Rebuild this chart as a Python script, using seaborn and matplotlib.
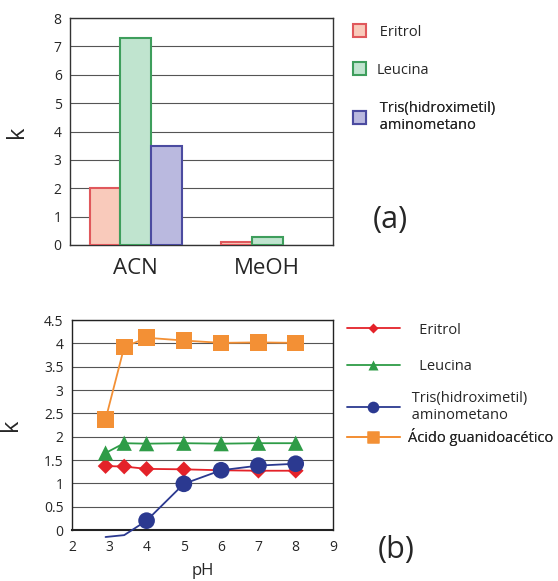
import matplotlib
matplotlib.use("Agg")
import matplotlib.pyplot as plt
import seaborn as sns
import pandas as pd
import numpy as np
from matplotlib.lines import Line2D
from matplotlib.patches import Patch

# ---- data (a) ----
solvents = ["ACN", "MeOH"]
compounds_a = ["Eritrol", "Leucina", "Tris(hidroximetil)\naminometano"]
k_eritrol_a = [2.0, 0.1]
k_leucina_a = [7.3, 0.28]
k_tris_a = [3.5, 0.0]

# ---- data (b) ----
ph_all = [2.9, 3.4, 4, 5, 6, 7, 8]
k_eritrol_b = [1.37, 1.36, 1.31, 1.30, 1.28, 1.27, 1.27]
k_leucina_b = [1.65, 1.86, 1.85, 1.86, 1.85, 1.86, 1.86]
k_tris_b = [-0.15, -0.11, 0.20, 0.99, 1.28, 1.38, 1.42]
tris_marker_ph = [4, 5, 6, 7, 8]
k_guan_b = [2.37, 3.92, 4.12, 4.06, 4.01, 4.02, 4.01]

sns.set_theme(style="white")
plt.rcParams['font.family'] = ['Open Sans', 'DejaVu Sans']

W, H = 558, 581
fig = plt.figure(figsize=(W/100, H/100), dpi=100)


def entry_legend(ax, handle, label, x_px, y_px, **kw):
    leg = ax.legend([handle], [label], loc="center left",
                    bbox_to_anchor=(x_px/W, 1 - y_px/H), bbox_transform=fig.transFigure,
                    frameon=False, borderpad=0, borderaxespad=0, fontsize=10.5, **kw)
    ax.add_artist(leg)
    return leg

# ---------------- (a) ----------------
ax1 = fig.add_axes([70/W, 1-245/H, 263/W, 227/H])
df_a = pd.DataFrame({
    "solvent": solvents * 3,
    "compound": [compounds_a[0]]*2 + [compounds_a[1]]*2 + [compounds_a[2]]*2,
    "k": k_eritrol_a + k_leucina_a + k_tris_a,
})
fills = ["#F9CABB", "#C0E4CF", "#BAB9DF"]
edges = ["#E0585C", "#3E9E5C", "#4B4BA0"]
sns.barplot(data=df_a, x="solvent", y="k", hue="compound", order=solvents,
            hue_order=compounds_a, palette=fills, saturation=1, width=0.7, ax=ax1,
            legend=False, zorder=3)
for i, cont in enumerate(ax1.containers):
    for p in cont.patches:
        p.set_edgecolor(edges[i])
        p.set_linewidth(1.5)
        if p.get_height() == 0:
            p.set_visible(False)
ax1.set_xlim(-0.5, 1.5)
ax1.set_ylim(0, 8)
ax1.set_yticks(range(0, 9))
ax1.yaxis.grid(True, color="#555555", linewidth=0.8, zorder=0)
ax1.set_axisbelow(True)
ax1.set_xlabel("")
ax1.set_ylabel("k", fontsize=17, labelpad=18)
ax1.tick_params(axis="y", labelsize=10, length=0, pad=6)
ax1.tick_params(axis="x", labelsize=16, length=0, pad=9)
for s in ax1.spines.values():
    s.set_color("#333333")
    s.set_linewidth(1.0)

labels_a = [" Eritrol", "Leucina", " Tris(hidroximetil)\n aminometano"]
ys_a = [32, 70, 117]
for i in range(3):
    h = Patch(facecolor=fills[i], edgecolor=edges[i], linewidth=1.5)
    entry_legend(ax1, h, labels_a[i], 353, ys_a[i], handlelength=0.9,
                 handleheight=0.9, handletextpad=0.7)
fig.text(373/W, 1-220/H, "(a)", fontsize=22, va="center", ha="left")

# ---------------- (b) ----------------
ax2 = fig.add_axes([72/W, 1-530/H, 261/W, 210/H])
series = [
    ("Eritrol", k_eritrol_b, "#E42229", "D", 8),
    ("Leucina", k_leucina_b, "#2E9C47", "^", 11),
    ("Tris(hidroximetil)\naminometano", k_tris_b, "#2B3990", "o", 12),
    ("Ácido guanidoacético", k_guan_b, "#F39035", "s", 12),
]
for name, vals, col, mk, ms in series:
    d = pd.DataFrame({"pH": ph_all, "k": vals})
    sns.lineplot(data=d, x="pH", y="k", color=col, linewidth=1.3, ax=ax2,
                 clip_on=False, zorder=3, legend=False)
    if mk == "o":
        dm = d[d["pH"].isin(tris_marker_ph)]
    else:
        dm = d
    sns.scatterplot(data=dm, x="pH", y="k", color=col, marker=mk, s=ms**2,
                    edgecolor="none", ax=ax2, zorder=4, clip_on=False, legend=False)

ax2.set_xlim(2, 9)
ax2.set_ylim(0, 4.5)
ax2.set_xticks(range(2, 10))
ax2.set_yticks(np.arange(0, 4.51, 0.5))
ax2.set_yticklabels(["0", "0.5", "1", "1.5", "2", "2.5", "3", "3.5", "4", "4.5"])
ax2.yaxis.grid(True, color="#555555", linewidth=0.8, zorder=0)
ax2.set_axisbelow(True)
ax2.set_xlabel("pH", fontsize=12, labelpad=6)
ax2.set_ylabel("k", fontsize=17, labelpad=15)
ax2.tick_params(axis="y", labelsize=10, length=0, pad=6)
ax2.tick_params(axis="x", labelsize=10, length=0, pad=7)
for s in ax2.spines.values():
    s.set_color("#222222")
    s.set_linewidth(1.0)
ax2.spines["bottom"].set_linewidth(1.5)

labels_b = ["   Eritrol", "   Leucina", " Tris(hidroximetil)\n aminometano", "Ácido guanidoacético"]
ys_b = [330, 367, 407, 437]
for (name, vals, c, m, ms), lab, y in zip(series, labels_b, ys_b):
    h = Line2D([0], [0], color=c, marker=m, markersize=ms*0.7,
               markeredgecolor="none", linewidth=1.3)
    entry_legend(ax2, h, lab, 347, y, handlelength=3.6, handletextpad=0.6)
fig.text(378/W, 1-550/H, "(b)", fontsize=22, va="center", ha="left")

fig.savefig("out.png", dpi=100)
